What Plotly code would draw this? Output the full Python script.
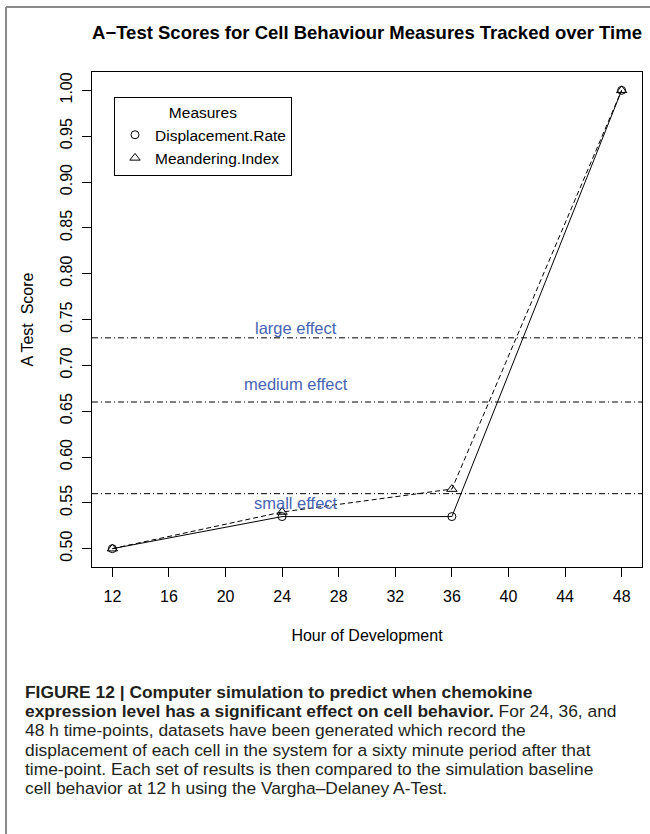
import plotly.graph_objects as go

# ---- data ----
hours = [12, 24, 36, 48]
displacement_rate = [0.500, 0.535, 0.535, 1.000]
meandering_index = [0.500, 0.540, 0.565, 1.000]

thresholds = [0.56, 0.66, 0.73]
threshold_labels = ["small effect", "medium effect", "large effect"]
threshold_label_y = [0.55, 0.68, 0.741]
threshold_label_x = 25

x_ticks = [12, 16, 20, 24, 28, 32, 36, 40, 44, 48]
y_ticks = [0.50, 0.55, 0.60, 0.65, 0.70, 0.75, 0.80, 0.85, 0.90, 0.95, 1.00]

title = "A\u2212Test Scores for Cell Behaviour Measures Tracked over Time"
x_title = "Hour of Development"
y_title = "A Test\u00a0 Score"
caption_lines = [
    "<b>FIGURE 12 | Computer simulation to predict when chemokine</b>",
    "<b>expression level has a significant effect on cell behavior.</b> For 24, 36, and",
    "48 h time-points, datasets have been generated which record the",
    "displacement of each cell in the system for a sixty minute period after that",
    "time-point. Each set of results is then compared to the simulation baseline",
    "cell behavior at 12 h using the Vargha\u2013Delaney A-Test.",
]

FONT = "Liberation Sans, Arial, Helvetica, sans-serif"
W, H = 650, 834
L, R, T, B = 92, 8, 72, 267
PW, PH = W - L - R, H - T - B


def px_x(p):
    return (p - L) / PW


def px_y(p):
    return (H - B - p) / PH


fig = go.Figure()

fig.add_trace(go.Scatter(
    x=hours, y=displacement_rate, mode="lines+markers",
    line=dict(color="black", width=1),
    marker=dict(symbol="circle-open", size=8, color="black", line=dict(width=1)),
    showlegend=False, name="Displacement.Rate"))
fig.add_trace(go.Scatter(
    x=hours, y=meandering_index, mode="lines+markers",
    line=dict(color="black", width=1, dash="5px,3px"),
    marker=dict(symbol="triangle-up-open", size=9, color="black", line=dict(width=1)),
    showlegend=False, name="Meandering.Index"))

# legend entries (symbols only, as in the original)
fig.add_trace(go.Scatter(
    x=[None], y=[None], mode="markers", name="Displacement.Rate",
    marker=dict(symbol="circle-open", size=8, color="black", line=dict(width=1))))
fig.add_trace(go.Scatter(
    x=[None], y=[None], mode="markers", name="Meandering.Index",
    marker=dict(symbol="triangle-up-open", size=9, color="black", line=dict(width=1))))

shapes = []
for t in thresholds:
    shapes.append(dict(type="line", xref="paper", yref="y", x0=0, x1=1, y0=t, y1=t,
                       line=dict(color="black", width=1, dash="6px,3px,1px,3px")))
# outer frame (left + top)
shapes.append(dict(type="line", xref="paper", yref="paper",
                   x0=px_x(6), x1=px_x(6), y0=px_y(7), y1=px_y(H),
                   line=dict(color="#8a8a8a", width=2)))
shapes.append(dict(type="line", xref="paper", yref="paper",
                   x0=px_x(6), x1=px_x(W), y0=px_y(7), y1=px_y(7),
                   line=dict(color="#8a8a8a", width=2)))

annotations = []
for lbl, ly in zip(threshold_labels, threshold_label_y):
    annotations.append(dict(x=threshold_label_x, y=ly, xref="x", yref="y", text=lbl,
                            showarrow=False, xanchor="center", yanchor="middle",
                            font=dict(family=FONT, size=16.5, color="#4763b3")))
for i, line in enumerate(caption_lines):
    annotations.append(dict(x=px_x(23), y=px_y(692 + 19.2 * i), xref="paper", yref="paper",
                            text=line, showarrow=False, xanchor="left", yanchor="middle",
                            align="left", font=dict(family=FONT, size=17.4, color="#231f20")))

fig.update_layout(
    width=W, height=H,
    margin=dict(l=L, r=R, t=T, b=B, pad=0),
    paper_bgcolor="white", plot_bgcolor="white",
    font=dict(family=FONT, size=16, color="black"),
    title=dict(text="<b>" + title + "</b>", x=0.5, xref="paper", xanchor="center",
               y=1 - 33 / H, yref="container", yanchor="middle",
               font=dict(family=FONT, size=18.5, color="black")),
    xaxis=dict(range=[10.56, 49.44], tickvals=x_ticks, ticks="outside", ticklen=9,
               tickwidth=1, tickcolor="black", showline=True, linecolor="black",
               linewidth=1, mirror=True, showgrid=False, zeroline=False,
               tickfont=dict(size=16), ticklabelstandoff=6,
               title=dict(text=x_title, standoff=25, font=dict(size=16))),
    yaxis=dict(range=[0.48, 1.02], tickvals=y_ticks, tickformat=".2f", tickangle=-90,
               ticks="outside", ticklen=9, tickwidth=1, tickcolor="black",
               showline=True, linecolor="black", linewidth=1, mirror=True,
               showgrid=False, zeroline=False, tickfont=dict(size=16),
               ticklabelstandoff=4,
               title=dict(text=y_title, standoff=19, font=dict(size=16))),
    legend=dict(x=px_x(114), y=px_y(97), xanchor="left", yanchor="top",
                bordercolor="black", borderwidth=1, bgcolor="white",
                font=dict(family=FONT, size=15.5, color="black"),
                title=dict(text="Measures", side="top center",
                           font=dict(family=FONT, size=15.5)),
                itemwidth=30, tracegroupgap=0),
    shapes=shapes, annotations=annotations,
)

fig.write_html("out.html")
